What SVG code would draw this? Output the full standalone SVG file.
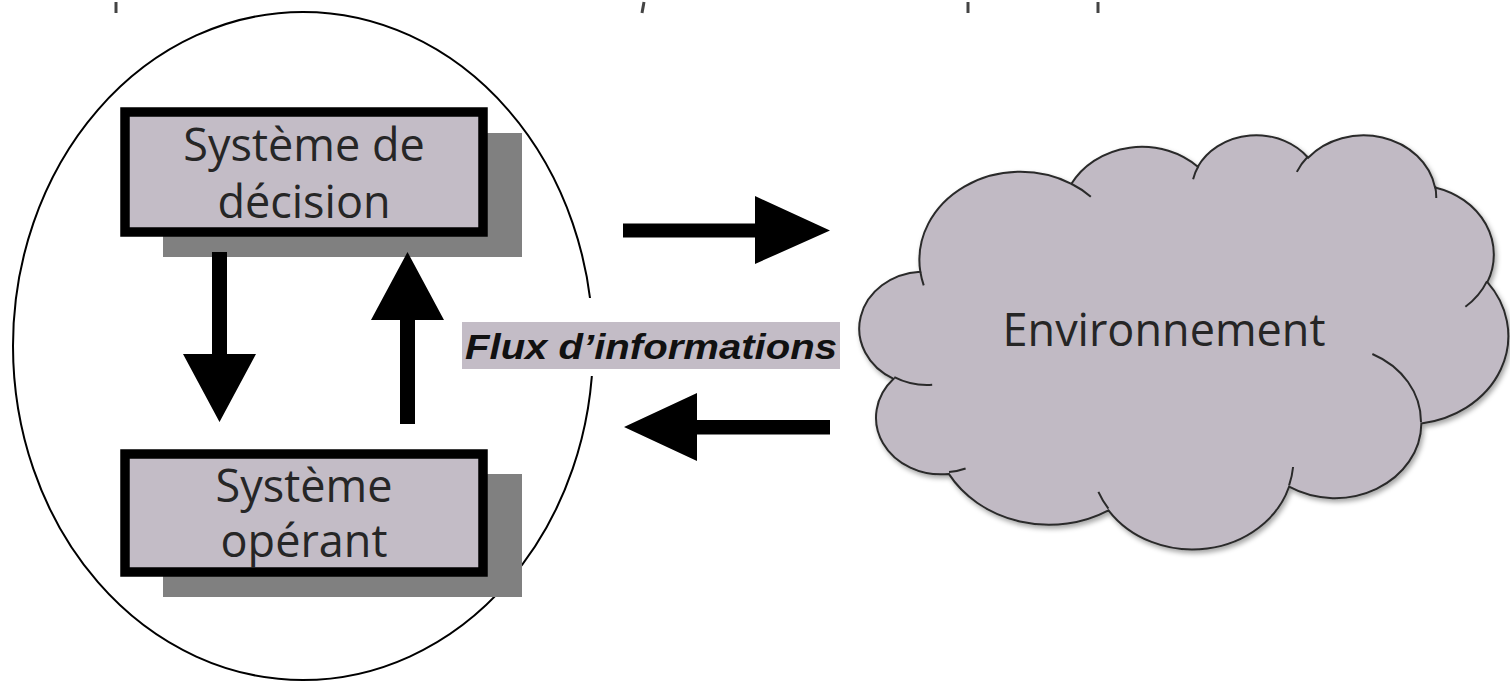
<svg xmlns="http://www.w3.org/2000/svg" width="1510" height="688" viewBox="0 0 1510 688">
  <defs>
    <style>
      .box { fill: #c3bcc6; stroke: #000; stroke-width: 9.5; }
      .shadow { fill: #808080; }
      .txt { font-family: "Open Sans", "Liberation Sans", sans-serif; font-size: 45px; fill: #262626; text-anchor: middle; }
      .lbl { font-family: "Liberation Sans", Arial, sans-serif; font-size: 35px; font-weight: bold; font-style: italic; fill: #111; }
      .arrow { fill: #000; }
      .cloud { fill: #c1bac4; stroke: #2a2a2a; stroke-width: 2; vector-effect: non-scaling-stroke; }
      .tail { fill: none; stroke: #2a2a2a; stroke-width: 2; vector-effect: non-scaling-stroke; }
      .tick { stroke: #444; stroke-width: 3; }
    </style>
    <filter id="cloudShadow" x="-5%" y="-5%" width="115%" height="115%">
      <feDropShadow dx="2" dy="3" stdDeviation="2.5" flood-color="#000" flood-opacity="0.35"/>
    </filter>
  </defs>
  <rect width="1510" height="688" fill="#fff"/>

  <g id="top-fragments">
    <line class="tick" x1="116" y1="2" x2="116" y2="13"/>
    <line class="tick" x1="644" y1="2" x2="642" y2="13"/>
    <line class="tick" x1="968" y1="2" x2="968" y2="13"/>
    <line class="tick" x1="1098" y1="2" x2="1098" y2="13"/>
  </g>

  <g id="systeme">
    <ellipse cx="303" cy="346" rx="290" ry="334" fill="none" stroke="#000" stroke-width="2"/>
  </g>

  <g id="systeme-decision">
    <rect class="shadow" x="163" y="133" width="359" height="124"/>
    <rect class="box" x="125" y="112" width="358" height="120"/>
    <text class="txt" x="304" y="161">Système de</text>
    <text class="txt" x="304" y="218">décision</text>
  </g>

  <g id="systeme-operant">
    <rect class="shadow" x="163" y="474" width="359" height="123"/>
    <rect class="box" x="125" y="454" width="358" height="118"/>
    <text class="txt" x="304" y="502">Système</text>
    <text class="txt" x="304" y="557">opérant</text>
  </g>

  <g id="environnement">
    <g filter="url(#cloudShadow)">
      <g transform="translate(862 134) scale(0.014954 0.009583)">
        <path class="cloud" d="M3900 14370 A6753 9190 0 0 1 14004.7 5201.8 A5333 7267 0 0 1 22456 3428.3 A4365 5945 0 0 1 29834.1 2477.3 A4857 6595 0 0 1 38319.2 5572.6 A5333 7273 0 0 1 41819.6 15456.3 A6775 9220 0 0 1 37405.3 30198.8 A5785 7867 0 0 1 28557.5 36809.5 A6752 9215 0 0 1 16483.7 39265 A7720 10543 0 0 1 5805.6 35469.9 A4360 5918 0 0 1 2114.1 25548.6 A4345 5945 0 0 1 3900 14370 Z"/>
      </g>
    </g>
    <g transform="translate(862 134) scale(0.014954 0.009583)">
      <path class="tail" d="M4693 26177 A4345 5945 0 0 1 2159.3 25379.6 M6928 34899 A4360 5918 0 0 1 5819.4 35280.5 M16478 39090 A6752 9215 0 0 1 15808.5 37345.9 M28827 34751 A6752 9215 0 0 1 28560.5 36659.4 M34129 22954 A5785 7867 0 0 1 37380.5 30089.7 M41798 15354 A5333 7273 0 0 1 40348.8 18031.7 M38324 5426 A4857 6595 0 0 1 38400.4 6689.6 M29078 3952 A4857 6595 0 0 1 29819.4 2341.4 M22141 4720 A4365 5945 0 0 1 22499.9 3330.8 M14000 5192 A6753 9190 0 0 1 15300.9 6541.7 M4127 15789 A6753 9190 0 0 1 3900.5 14371.2"/>
    </g>
    <text class="txt" x="1164" y="346">Environnement</text>
  </g>

  <g id="flux-label">
    <rect x="455" y="298" width="390" height="78" fill="#fff"/>
    <rect x="462" y="322" width="378" height="47" fill="#c3bcc6"/>
    <text class="lbl" x="465" y="359" textLength="372" lengthAdjust="spacingAndGlyphs">Flux d’informations</text>
  </g>

  <g id="connectors">
    <polygon class="arrow" points="212,252 227,252 227,354 256,354 219.5,422 183,354 212,354"/>
    <polygon class="arrow" points="400,424 415,424 415,320 444,320 407.5,252 371,320 400,320"/>
    <polygon class="arrow" points="623,223.5 755,223.5 755,196 830,230.5 755,264 755,237.5 623,237.5"/>
    <polygon class="arrow" points="830,420 697,420 697,393 624,427 697,461 697,434.5 830,434.5"/>
  </g>
</svg>
